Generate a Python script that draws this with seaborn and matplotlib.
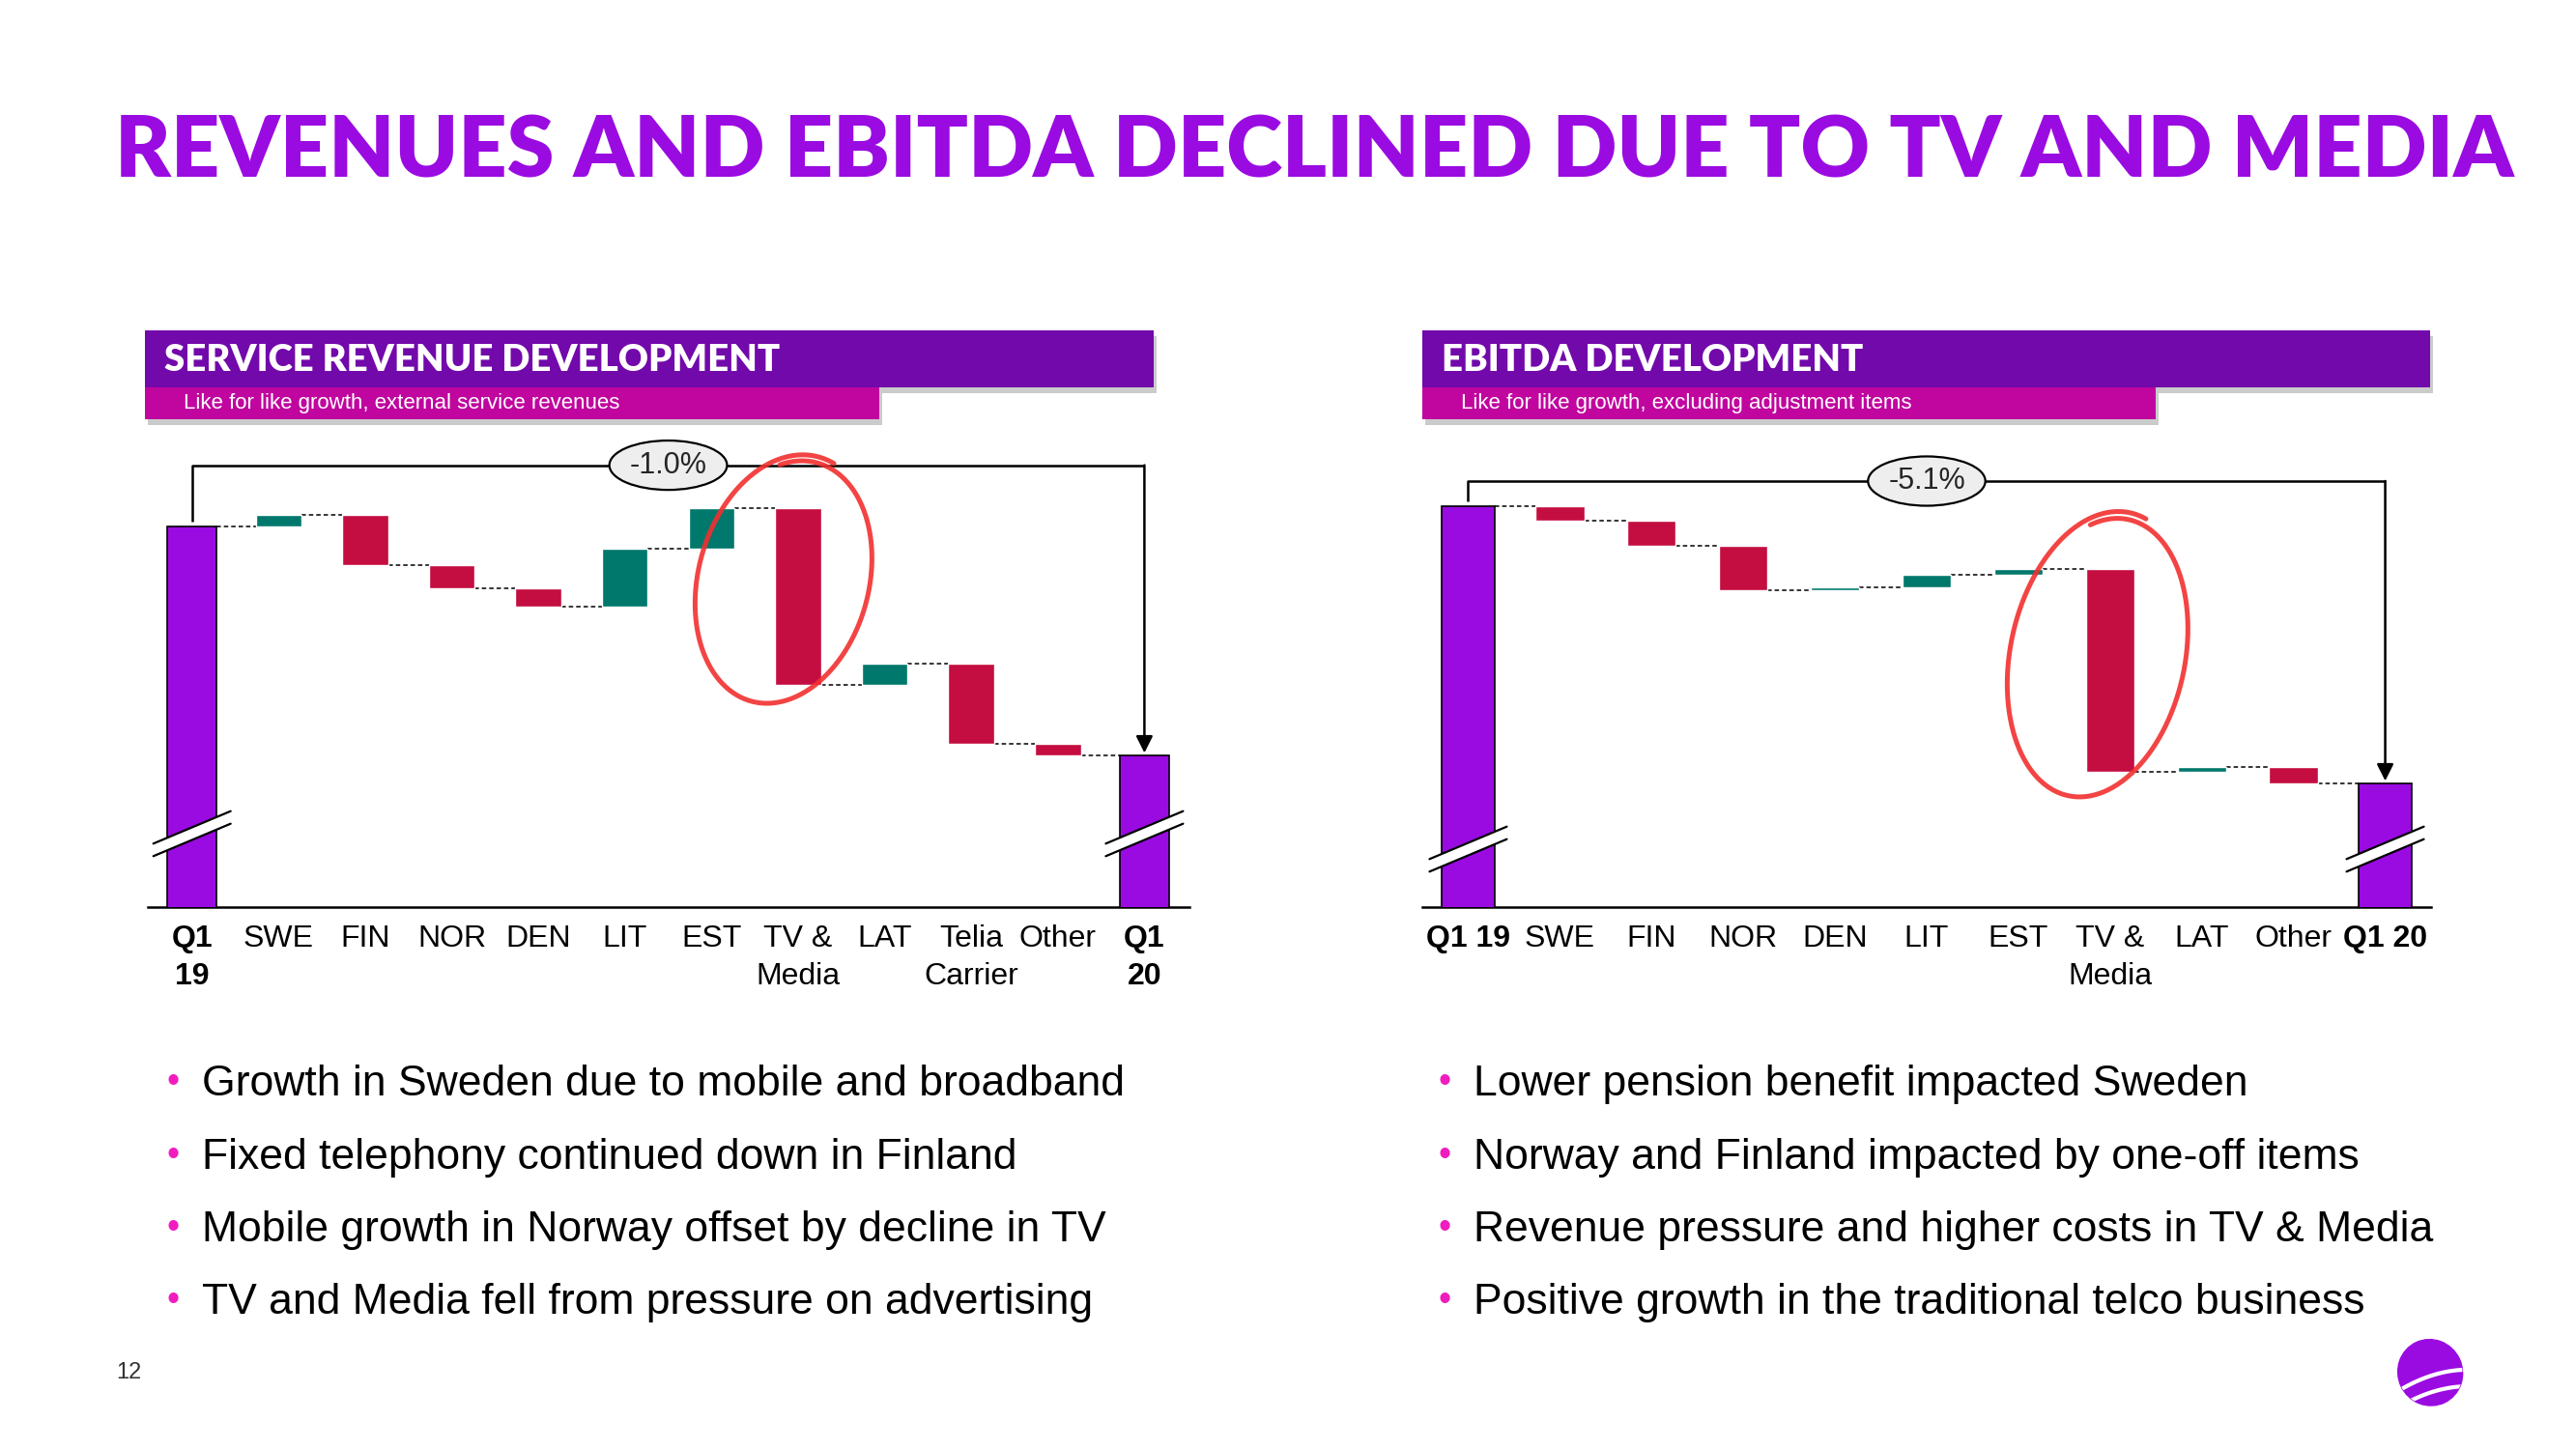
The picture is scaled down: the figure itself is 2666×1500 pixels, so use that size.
# -*- coding:utf-8 -*-
import numpy as np
import seaborn as sns
import matplotlib.pyplot as plt
from matplotlib.patches import Rectangle, Ellipse, Polygon

# ---- data (Q1 19 indexed to 100, steps in %-points) ----
title = "REVENUES AND EBITDA DECLINED DUE TO TV AND MEDIA"

rev_title = "SERVICE REVENUE DEVELOPMENT"
rev_sub = "Like for like growth, external service revenues"
rev_labels = ["Q1\n19", "SWE", "FIN", "NOR", "DEN", "LIT", "EST", "TV &\nMedia",
              "LAT", "Telia\nCarrier", "Other", "Q1\n20"]
rev_start = 100.0
rev_changes = [0.05, -0.22, -0.10, -0.08, 0.25, 0.18, -0.77, 0.09, -0.35, -0.05]
rev_bullets = ["Growth in Sweden due to mobile and broadband",
               "Fixed telephony continued down in Finland",
               "Mobile growth in Norway offset by decline in TV",
               "TV and Media fell from pressure on advertising"]

ebitda_title = "EBITDA DEVELOPMENT"
ebitda_sub = "Like for like growth, excluding adjustment items"
ebitda_labels = ["Q1 19", "SWE", "FIN", "NOR", "DEN", "LIT", "EST", "TV &\nMedia",
                 "LAT", "Other", "Q1 20"]
ebitda_start = 100.0
ebitda_changes = [-0.26, -0.47, -0.82, 0.06, 0.22, 0.11, -3.72, 0.09, -0.31]
ebitda_bullets = ["Lower pension benefit impacted Sweden",
                  "Norway and Finland impacted by one-off items",
                  "Revenue pressure and higher costs in TV & Media",
                  "Positive growth in the traditional telco business"]

PURPLE = "#9A0BE2"
TEAL = "#00786C"
RED = "#C40D40"
HEAD = "#7209AA"
PINK = "#C0069F"
BULLET = "#F01CBE"
LOOP = "#F2302F"

W, H = 2666, 1500

sns.set_theme(style="white")
plt.rcParams['font.family'] = ['Liberation Sans', 'DejaVu Sans']

fig = plt.figure(figsize=(W / 100, H / 100), dpi=100)
fig.patch.set_facecolor("white")


def px_rect(x0, x1, y_top, y_bot):
    return [x0 / W, 1 - y_bot / H, (x1 - x0) / W, (y_bot - y_top) / H]


def waterfall(rect, labels, start, changes, xlim, ylim, bracket_y):
    ax = fig.add_axes(rect)
    n = len(labels)
    levels = start + np.concatenate([[0.0], np.cumsum(changes)])
    end = levels[-1]
    tw, fw = 0.57, 0.53
    ax.bar([0, n - 1], [start, end], width=tw, color=PURPLE,
           edgecolor="black", linewidth=1.2, zorder=3)
    lows = np.minimum(levels[:-1], levels[1:])
    cols = [TEAL if c > 0 else RED for c in changes]
    ax.bar(np.arange(1, n - 1), np.abs(changes), bottom=lows, width=fw,
           color=cols, zorder=3)
    for i in range(n - 1):
        w0 = tw / 2 if i == 0 else fw / 2
        w1 = tw / 2 if i == n - 2 else fw / 2
        ax.plot([i + w0, i + 1 - w1], [levels[i], levels[i]], color="black",
                lw=1.1, ls=(0, (3, 2)), zorder=2)
    # bracket with arrow
    ax.plot([0, 0, n - 1], [start + 0.01 * (ylim[1] - ylim[0]), bracket_y, bracket_y],
            color="black", lw=1.8, zorder=4, solid_capstyle="butt")
    ax.annotate("", xy=(n - 1, end), xytext=(n - 1, bracket_y),
                arrowprops=dict(arrowstyle="-|>", color="black", lw=1.8,
                                mutation_scale=26, shrinkA=0, shrinkB=2),
                zorder=4)
    pct = (end / start - 1) * 100
    ax.text((n - 1) / 2, bracket_y, f"{pct:.1f}%", ha="center", va="center",
            fontsize=22, zorder=6,
            bbox=dict(boxstyle="ellipse,pad=0.1", fc="#EEEEEE", ec="black", lw=1.6))
    ax.set_xlim(*xlim)
    ax.set_ylim(*ylim)
    ax.set_xticks(range(n))
    ax.set_xticklabels(labels, fontsize=23, linespacing=1.4)
    for i in (0, n - 1):
        ax.get_xticklabels()[i].set_fontweight("bold")
    ax.tick_params(axis="x", length=0, pad=13, colors="black")
    ax.set_yticks([])
    for s in ("top", "left", "right"):
        ax.spines[s].set_visible(False)
    ax.spines["bottom"].set_color("black")
    ax.spines["bottom"].set_linewidth(1.8)
    ax.patch.set_alpha(0)
    return ax, levels


ax1, lev1 = waterfall(px_rect(153, 1231, 440, 939), rev_labels, rev_start,
                      rev_changes, (-0.51, 11.52), (98.34, 100.44), 100.265)
ax2, lev2 = waterfall(px_rect(1472, 2516, 440, 939), ebitda_labels, ebitda_start,
                      ebitda_changes, (-0.5, 10.5), (92.63, 101.49), 100.46)

# overlay in pixel coordinates for the slide furniture
ov = fig.add_axes([0, 0, 1, 1])
ov.set_xlim(0, W)
ov.set_ylim(H, 0)
ov.axis("off")
ov.set_zorder(5)
ov.patch.set_alpha(0)

ov.text(119, 158, title, color=PURPLE, fontsize=63.3, fontweight="heavy",
        family=["Lato", "DejaVu Sans"], va="center", ha="left")

for x0, x1, x2, head, sub in [(150, 1194, 910, rev_title, rev_sub),
                              (1472, 2515, 2231, ebitda_title, ebitda_sub)]:
    ov.add_patch(Rectangle((x0 + 3, 348), x1 - x0, 59, color="#8C8C8C", alpha=0.45, lw=0))
    ov.add_patch(Rectangle((x0 + 3, 407), x2 - x0, 33, color="#8C8C8C", alpha=0.45, lw=0))
    ov.add_patch(Rectangle((x0, 342), x1 - x0, 59, color=HEAD, lw=0))
    ov.add_patch(Rectangle((x0, 401), x2 - x0, 33, color=PINK, lw=0))
    ov.text(x0 + 20, 373, head, color="white", fontsize=27.5, fontweight="heavy",
            family=["Lato", "DejaVu Sans"], va="center", ha="left")
    ov.text(x0 + 40, 417, sub, color="white", fontsize=16, va="center", ha="left")

# bullets
row_y = [1119, 1195, 1270, 1345]
for bx, lines in [(172, rev_bullets), (1488, ebitda_bullets)]:
    for y, t in zip(row_y, lines):
        ov.text(bx, y + 12, "\u2022", color=BULLET, fontsize=27, va="baseline", ha="left")
        ov.text(bx + 37, y + 15, t, color="black", fontsize=32, va="baseline", ha="left")

ov.text(133, 1421, "12", fontsize=17, color="#333333", ha="center", va="center")


# axis break marks on the total bars
def to_px(ax, x, y):
    dx, dy = ax.transData.transform((x, y))
    return dx, H - dy


def break_mark(ax, x, up):
    cx, base = to_px(ax, x, ax.get_ylim()[0])
    cy = base - up
    hw, s, g = 40, 0.42, 13
    xs = np.array([cx - hw, cx + hw])
    top = cy - s * (xs - cx) - g / 2
    bot = cy - s * (xs - cx) + g / 2
    ov.add_patch(Polygon([(xs[0], top[0]), (xs[1], top[1]), (xs[1], bot[1]), (xs[0], bot[0])],
                         closed=True, fc="white", ec="none"))
    ov.plot(xs, top, color="black", lw=1.6)
    ov.plot(xs, bot, color="black", lw=1.6)


break_mark(ax1, 0, 76)
break_mark(ax1, len(rev_labels) - 1, 76)
break_mark(ax2, 0, 60)
break_mark(ax2, len(ebitda_labels) - 1, 60)


# hand drawn highlight loops
def loop(cx, cy, a, b, ang):
    t = np.linspace(-2.0, -2.0 + 2 * np.pi * 1.1, 400)
    grow = 1 + 0.05 * (t - t[0]) / (2 * np.pi)
    x = a * np.cos(t) * grow
    y = b * np.sin(t) * grow
    th = np.radians(ang)
    xr = x * np.cos(th) - y * np.sin(th)
    yr = x * np.sin(th) + y * np.cos(th)
    ov.plot(cx + xr, cy + yr, color=LOOP, lw=3.6, alpha=0.9, solid_capstyle="round")


loop(812, 601, 86, 126, 15)
loop(2172, 679, 88, 144, 12)

# logo
lg = fig.add_axes(px_rect(2470, 2556, 1380, 1466))
lg.set_xlim(-1, 1)
lg.set_ylim(-1, 1)
lg.set_aspect("equal")
lg.axis("off")
pebble = Ellipse((0.05, 0.05), 1.55, 1.6, angle=25, color=PURPLE)
lg.add_patch(pebble)
tt = np.linspace(-1.2, 1.2, 50)
for off in (-0.05, -0.45):
    ln, = lg.plot(tt, off + 0.35 * tt - 0.18 * tt ** 2, color="white", lw=3)
    ln.set_clip_path(pebble)

fig.savefig("out.png", dpi=100, facecolor="white")
